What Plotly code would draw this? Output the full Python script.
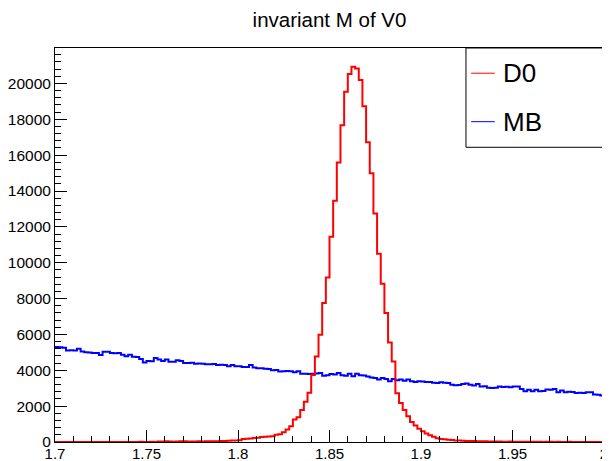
import numpy as np
import plotly.graph_objects as go

# histogram binning: 150 bins from 1.7 to 2.0
x_lo, x_hi, n_bins = 1.7, 2.0, 150

# D0 signal counts per bin
d0_counts = [
    0, 0, 0, 5, 0, 0, 0, 0, 5, 0, 0, 0, 0, 5, 0, 0, 0, 5, 0, 0,
    5, 0, 0, 10, 0, 5, 10, 5,
    30, 25, 35, 30, 20, 30, 40, 35, 30, 25, 30, 35, 30, 40, 35, 45, 40, 50, 55,
    70, 80, 85, 95,
    170, 180, 190,
    220, 240,
    280, 290, 300,
    320,
    400, 430,
    550, 700, 880, 1250, 1380, 1790, 2250, 2750, 3740, 4770, 5980, 7750, 9180,
    11450, 13450, 15590, 17670, 19540, 20520, 20930, 20840, 20190, 18730, 16720,
    14990, 12740, 10500, 8830, 7190, 5550, 4490, 2720, 2180, 1780, 1430, 1120,
    920, 740, 600, 480, 380, 290, 210,
    170, 150, 130, 110, 90, 80, 70, 60, 50, 50, 40,
    40, 35, 30, 30, 25, 30, 20, 20, 25, 15, 20, 15, 10, 15, 10, 10, 15, 5, 10, 10,
    5, 10, 5, 5, 10, 5, 5, 0, 5, 5, 0, 5, 0, 5,
]

# minimum bias counts per bin
mb_counts = [
    5300, 5280, 5260, 5110, 5120, 5100, 5200, 5050, 5000, 4990,
    4960, 4970, 4855, 5040, 5030, 4960, 4950, 4960, 4860, 4780,
    4870, 4750, 4740, 4630, 4440, 4520, 4510, 4690, 4600, 4520,
    4600, 4480, 4470, 4560, 4520, 4410, 4400, 4420, 4370, 4380,
    4360, 4340, 4330, 4350, 4300, 4310, 4290, 4220, 4300, 4220,
    4230, 4190, 4180, 4300, 4150, 4110, 4120, 4080, 4070, 4000,
    4010, 3930, 3940, 3960, 3950, 3890, 3950, 3800, 3810, 3790,
    3800, 3820, 3850, 3700, 3730,
    3790, 3760, 3850, 3720, 3690, 3800, 3670, 3800, 3720, 3710,
    3660, 3600, 3570, 3480, 3570, 3520, 3390, 3520, 3440, 3480,
    3420, 3480, 3390, 3350, 3390, 3380, 3350, 3340, 3300, 3290,
    3330, 3300, 3290, 3200, 3170, 3180, 3240, 3260, 3200, 3150,
    3240, 3100, 3110, 3020, 3010, 3020, 3100, 3070, 3080, 3060,
    3100, 3090, 2960, 2830, 2920, 2830, 2920, 2830, 2840, 2930,
    2920, 2960, 2770, 2870, 2780, 2800, 2790, 2740, 2750, 2730,
    2780, 2770, 2650, 2640, 2600,
]

x_tickvals = [1.7, 1.75, 1.8, 1.85, 1.9, 1.95, 2.0]
x_ticktext = ["1.7", "1.75", "1.8", "1.85", "1.9", "1.95", "2"]
y_tickvals = list(range(0, 20001, 2000))
y_ticktext = [str(v) for v in y_tickvals]

edges = np.linspace(x_lo, x_hi, n_bins + 1)


def step(counts):
    # repeat last bin so the 'hv' step closes at the upper edge
    return list(counts) + [counts[-1]]


fig = go.Figure()
fig.add_trace(go.Scatter(x=edges, y=step(mb_counts), mode="lines", line_shape="hv",
                         line=dict(color="#0000ff", width=2), name="MB"))
fig.add_trace(go.Scatter(x=edges, y=step(d0_counts), mode="lines", line_shape="hv",
                         line=dict(color="#ff0000", width=2), name="D0"))

font = "Liberation Sans, Arial, sans-serif"

# ROOT-style legend box in the top right corner
fig.add_shape(type="rect", xref="paper", yref="paper", x0=0.7486, x1=1.0, y0=0.748, y1=1.0,
              line=dict(color="black", width=1), fillcolor="white", layer="above")
for yy, col, lab in [(0.936, "#ff0000", "D0"), (0.813, "#0000ff", "MB")]:
    fig.add_shape(type="line", xref="paper", yref="paper", x0=0.758, x1=0.801, y0=yy, y1=yy,
                  line=dict(color=col, width=1), layer="above")
    fig.add_annotation(xref="paper", yref="paper", x=0.8124, y=yy, text=lab, showarrow=False,
                       xanchor="left", yanchor="middle", font=dict(family=font, size=26, color="black"))

# page body adds an 8px offset, so the figure is 8px smaller than the window
fig.update_layout(
    width=602, height=453,
    margin=dict(l=47, r=6, t=40, b=19),
    paper_bgcolor="white", plot_bgcolor="white",
    showlegend=False,
    font=dict(family=font, size=15, color="black"),
    title=dict(text="invariant M of V0", x=0.5, xref="paper", y=1 - 12 / 453, yref="container",
               xanchor="center", yanchor="middle", font=dict(family=font, size=20.5, color="black")),
    xaxis=dict(range=[x_lo, x_hi], tickvals=x_tickvals, ticktext=x_ticktext, automargin=False,
               ticklabeloverflow="allow", ticklabelstandoff=-2,
               showline=True, mirror=True, linecolor="black", linewidth=1,
               ticks="inside", ticklen=12, tickcolor="black", showgrid=False, zeroline=False,
               minor=dict(ticks="inside", ticklen=6, dtick=0.01, tick0=1.7, tickcolor="black", showgrid=False),
               tickfont=dict(size=15)),
    yaxis=dict(range=[0, 21977], tickvals=y_tickvals, ticktext=y_ticktext, automargin=False,
               ticklabeloverflow="allow",
               showline=True, mirror=True, linecolor="black", linewidth=1,
               ticks="inside", ticklen=12, tickcolor="black", showgrid=False, zeroline=False,
               minor=dict(ticks="inside", ticklen=6, dtick=400, tick0=0, tickcolor="black", showgrid=False),
               tickfont=dict(size=15.5)),
)

fig.write_html("out.html")
